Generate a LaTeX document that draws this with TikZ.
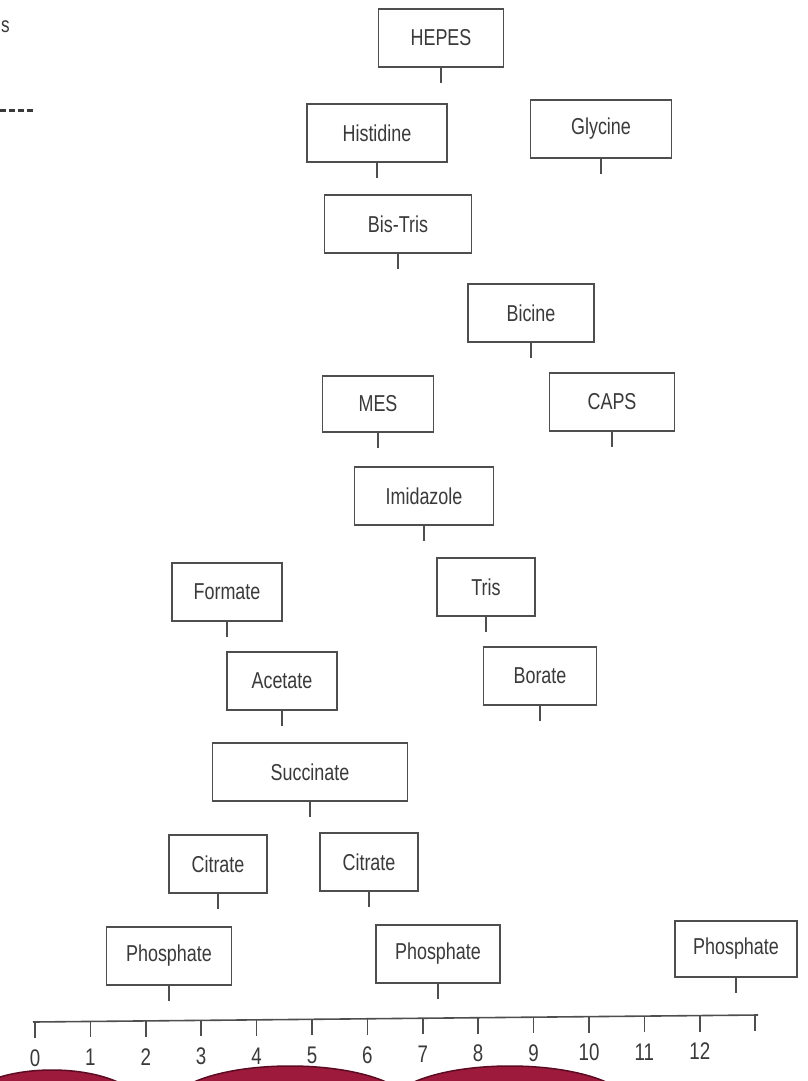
\documentclass[tikz,border=0pt]{standalone}
\usepackage{fontspec}
\setmainfont{Liberation Sans}[FakeStretch=0.78]
\usetikzlibrary{calc}

\definecolor{ink}{HTML}{3A3A3A}
\definecolor{frame}{HTML}{4E4E4E}
\definecolor{maroon}{HTML}{9E1A3D}
\definecolor{maroonedge}{HTML}{5C0B22}

\tikzset{
  buffer/.style={draw=frame, line width=1.5pt, text=ink, minimum height=58, inner sep=0pt,
    font=\fontsize{23}{26}\selectfont},
  stem/.style={draw=frame, line width=1.5pt},
  axisline/.style={draw=frame, line width=1.6pt},
  phlabel/.style={text=ink, font=\fontsize{24}{27}\selectfont}
}

\begin{document}
\begin{tikzpicture}[x=1pt,y=-1pt]

\useasboundingbox[fill=white] (0,0) rectangle (808,1081);

% fragments at the left edge
\node[text=ink, font=\fontsize{22}{24}\selectfont, anchor=west, inner sep=1pt] (frag) at (0,27) {s};
\draw[ink, line width=3pt, dash pattern=on 6pt off 3pt] (0,110) -- (34,110);

% buffers, top to bottom
\node[buffer, minimum width=125] (hepes) at (441,38) {HEPES};
\node[buffer, minimum width=140] (histidine) at (377,133) {Histidine};
\node[buffer, minimum width=141] (glycine) at (601,129) {Glycine};
\node[buffer, minimum width=147] (bistris) at (398,224) {Bis-Tris};
\node[buffer, minimum width=126] (bicine) at (531,313) {Bicine};
\node[buffer, minimum width=111, minimum height=56] (mes) at (378,404) {MES};
\node[buffer, minimum width=125] (caps) at (612,402) {CAPS};
\node[buffer, minimum width=139] (imidazole) at (424,496) {Imidazole};
\node[buffer, minimum width=110] (formate) at (227,592) {Formate};
\node[buffer, minimum width=98] (tris) at (486,587) {Tris};
\node[buffer, minimum width=110] (acetate) at (282,681) {Acetate};
\node[buffer, minimum width=113] (borate) at (540,676) {Borate};
\node[buffer, minimum width=195] (succinate) at (310,772) {Succinate};
\node[buffer, minimum width=98] (citrateA) at (218,864) {Citrate};
\node[buffer, minimum width=98] (citrateB) at (369,862) {Citrate};
\node[buffer, minimum width=125] (phosA) at (169,956) {Phosphate};
\node[buffer, minimum width=124] (phosB) at (438,954) {Phosphate};
\node[buffer, minimum width=122, minimum height=56] (phosC) at (736,949) {Phosphate};

\foreach \n in {hepes,histidine,glycine,bistris,bicine,mes,caps,imidazole,
  formate,tris,acetate,borate,succinate,citrateA,citrateB,phosA,phosB,phosC}
  \draw[stem] (\n.south) -- ++(0,15);

% pH scale
\coordinate (axl) at (33,1022);
\coordinate (axr) at (758,1015);
\draw[axisline] (axl) -- (axr);
\foreach \i in {0,...,13} {
  \pgfmathsetmacro{\t}{(2+55.4*\i)/725}
  \draw[axisline] ($(axl)!\t!(axr)$) coordinate (tk\i) -- ++(0,16);
}
\foreach \i in {0,...,12}
  \node[phlabel] (ph\i) at ([yshift=-36pt]tk\i) {\i};

% coloured shapes at the bottom edge
\fill[maroon, draw=maroonedge, line width=1.5pt] (52,1110) ellipse [x radius=92, y radius=40];
\fill[maroon, draw=maroonedge, line width=1.5pt] (290,1106) ellipse [x radius=120, y radius=40];
\fill[maroon, draw=maroonedge, line width=1.5pt] (510,1106) ellipse [x radius=120, y radius=40];

\end{tikzpicture}
\end{document}
